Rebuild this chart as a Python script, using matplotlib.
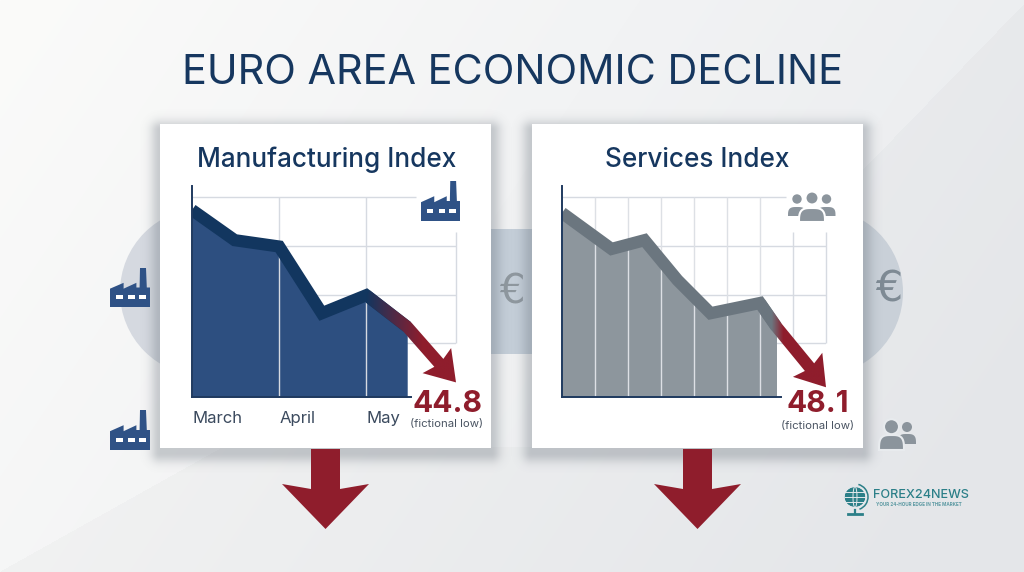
import numpy as np
import matplotlib
matplotlib.use('Agg')
import matplotlib.pyplot as plt
from matplotlib.colors import LinearSegmentedColormap, to_rgb
from matplotlib.patches import Rectangle, Circle, Polygon, Arc, Ellipse

plt.rcParams['font.family'] = ['Inter', 'DejaVu Sans']

# data
mfg_x = [0, 0.49, 1.0, 1.49, 2.0]
mfg_values = [48.34, 47.72, 47.59, 46.22, 46.59]
mfg_fade_x = [2.47, 3.03]
mfg_fade_values = [45.94, 44.8]
mfg_grid_values = [45.6, 46.6, 47.6, 48.6]
mfg_ticks = [0, 1, 2]
mfg_labels = ['March', 'April', 'May']

srv_x = [0, 1.5, 2.5, 3.5, 4.5, 6.0]
srv_values = [51.68, 50.94, 51.12, 50.30, 49.62, 49.83]
srv_fade_x = [6.5, 8.0]
srv_fade_values = [49.34, 48.1]
srv_grid_values = [49, 50, 51, 52]

NAVY = '#16375f'
RED = '#8f1d2c'
BLUE_FILL = '#2d4f80'
BLUE_LINE = '#12365f'
GREY_FILL = '#8d969d'
GREY_LINE = '#6b767f'
GRID = '#d6dae1'
TEAL = '#2b7f88'
W, H = 1024, 572

fig = plt.figure(figsize=(W / 100, H / 100), dpi=100)

# backdrop in pixel coordinates
bg = fig.add_axes([0, 0, 1, 1], zorder=0)
bg.axis('off')

xx, yy = np.meshgrid(np.linspace(0, W, W), np.linspace(0, H, H))
t = np.clip(0.8 * xx / W + 0.3 * yy / H, 0, 1)[..., None]
bg_img = (1 - t) * np.array(to_rgb('#fbfbfa')) + t * np.array(to_rgb('#e9ebee'))
lower = (yy > 572 - 0.56 * xx) & (yy > 447)
upper = yy > 168 - 1.03 * (xx - 865)
bg_img = bg_img - 0.018 * (lower | upper)[..., None]
bg.imshow(np.clip(bg_img, 0, 1), extent=(0, W, H, 0), aspect='auto', zorder=0)
bg.set_xlim(0, W)
bg.set_ylim(H, 0)

bg.add_patch(Circle((204, 292), 84, fc='#d5d9e0', lw=0, zorder=2))
bg.add_patch(Circle((819, 292), 84, fc='#c9d0d8', lw=0, zorder=2))
bg.add_patch(Rectangle((491, 229), 41, 125, fc='#c4ced8', lw=0, zorder=2))
bg.text(512, 292, '€', fontsize=29, family='DejaVu Sans', color='#8f989f', ha='center', va='center', zorder=3)
bg.text(889, 290, '€', fontsize=31, family='DejaVu Sans', color='#7e8a94', ha='center', va='center', zorder=3)


def factory(ax, x0, y0, w, h, color):
    outline = [(0, 0), (0, 0.47), (0.34, 0.62), (0.34, 0.47), (0.66, 0.62), (0.66, 0.5),
               (0.74, 0.5), (0.75, 1), (0.9, 1), (0.92, 0.5), (1, 0.5), (1, 0)]
    ax.add_patch(Polygon([(x0 + a * w, y0 - b * h) for a, b in outline], fc=color, lw=0, zorder=6))
    for a in (0.15, 0.45, 0.73):
        ax.add_patch(Rectangle((x0 + a * w, y0 - 0.31 * h), 0.17 * w, 0.1 * h, fc='white', lw=0, zorder=7))


def person(ax, cx, head_y, r, half_w, top, bottom, color, edge=None, zorder=6):
    th = np.linspace(0, np.pi, 40)
    c, s = np.cos(th), np.sin(th)
    dome_x = cx + half_w * np.sign(c) * np.abs(c) ** 0.6
    dome_y = bottom - (bottom - top) * s ** 0.6
    lw = 1.5 if edge else 0
    ax.add_patch(Polygon(np.column_stack([dome_x, dome_y]), fc=color, ec=edge, lw=lw, zorder=zorder))
    ax.add_patch(Circle((cx, head_y), r, fc=color, ec=edge, lw=lw, zorder=zorder))


# soft shadows and cards
for left in (160, 532):
    dx = np.maximum(np.maximum(left - xx, xx - (left + 331)), 0)
    dy = np.maximum(np.maximum(130 - yy, yy - 453), 0)
    dist = np.hypot(dx, dy)
    shadow = np.zeros((H, W, 4))
    shadow[..., :3] = to_rgb('#59636e')
    shadow[..., 3] = 0.3 * np.exp(-(dist / 10) ** 2)
    bg.imshow(shadow, extent=(0, W, H, 0), aspect='auto', zorder=4)
    bg.add_patch(Rectangle((left, 124), 331, 324, fc='white', lw=0, zorder=5))
bg.set_xlim(0, W)
bg.set_ylim(H, 0)

# red arrows below the cards
for cx in (325.5, 697.5):
    bg.add_patch(Polygon([(cx - 14.5, 449), (cx + 14.5, 449), (cx + 14.5, 489), (cx + 43.5, 484),
                          (cx, 529), (cx - 43.5, 484), (cx - 14.5, 489)], fc=RED, lw=0, zorder=6))

# icons
factory(bg, 110, 307, 40, 39, '#2f5286')
factory(bg, 110, 450, 40, 40, '#2f5286')
factory(bg, 421, 221, 39, 40, '#2f5286')

person(bg, 797, 199, 4.7, 9, 207, 216, '#8c959d')
person(bg, 826.5, 199, 4.7, 9, 207, 216, '#8c959d')
person(bg, 812, 198, 6.5, 13, 208, 222, '#8c959d', edge='white', zorder=8)

person(bg, 907, 427, 5, 9, 434, 444, '#8b949c')
person(bg, 891.5, 426.7, 7.5, 12.5, 435, 450, '#8b949c', edge='#e8ebee', zorder=8)

# text
bg.text(512, 72.5, 'EURO AREA ECONOMIC DECLINE', fontsize=29.8, color=NAVY, ha='center', va='center', zorder=6)
bg.text(327, 160, 'Manufacturing Index', fontsize=18.8, fontweight='medium', color=NAVY, ha='center', va='center', zorder=6)
bg.text(697, 160, 'Services Index', fontsize=18.8, fontweight='medium', color=NAVY, ha='center', va='center', zorder=6)
bg.text(447, 403.5, f'{mfg_fade_values[-1]:.1f}', fontsize=21.5, fontweight='bold', color=RED, ha='center', va='center', zorder=6)
bg.text(818, 404.5, f'{srv_fade_values[-1]:.1f}', fontsize=21.5, fontweight='bold', color=RED, ha='center', va='center', zorder=6)
bg.text(447, 424, '(fictional low)', fontsize=8.2, color='#4b5563', ha='center', va='center', zorder=6)
bg.text(818, 426, '(fictional low)', fontsize=8.2, color='#4b5563', ha='center', va='center', zorder=6)

# logo
bg.add_patch(Circle((855, 497), 10.5, fc=TEAL, lw=0, zorder=6))
for dx_g in (-6, 0, 6):
    bg.add_patch(Ellipse((855, 497), abs(dx_g) * 3 + 4, 21, fc='none', ec='#e4e8ec', lw=0.7, zorder=7))
for dy_g in (-5, 0, 5):
    bg.plot([845, 865], [497 + dy_g, 497 + dy_g], color='#e4e8ec', lw=0.7, zorder=7)
bg.add_patch(Arc((855, 497), 26, 26, theta1=-75, theta2=70, ec=TEAL, lw=1.1, zorder=7))
bg.plot([855, 855], [510, 513], color=TEAL, lw=1.6, zorder=6)
bg.plot([848, 862], [514, 514], color=TEAL, lw=2, zorder=6)
bg.text(872.5, 495, 'FOREX24NEWS', fontsize=9.1, fontweight='medium', color=TEAL, ha='left', va='center', zorder=6)
bg.text(918.5, 504.5, 'YOUR 24-HOUR EDGE IN THE MARKET', fontsize=3.3, fontweight='bold', color='#5d9aa3',
        ha='center', va='center', zorder=6)


def arrow_outline(ax, xs, vs, half=6.0, wing=19.0, head=26.0):
    a, b, tip = ax.transData.transform(np.column_stack([xs, vs]))
    d1 = (b - a) / np.linalg.norm(b - a)
    d2 = (tip - b) / np.linalg.norm(tip - b)
    n1 = np.array([-d1[1], d1[0]])
    n2 = np.array([-d2[1], d2[0]])
    m = (n1 + n2) / np.linalg.norm(n1 + n2)
    m = m * half / np.dot(m, n1)
    neck = tip - d2 * head
    pts = [a + n1 * half, b + m, neck + n2 * half, neck + n2 * wing - d2 * 3, tip,
           neck - n2 * wing - d2 * 3, neck - n2 * half, b - m, a - n1 * half]
    return ax.transData.inverted().transform(np.array(pts))


def panel(box, x, values, fade_x, fade_values, xmax, ybase, grid_values, fill, line, fade_start, fade_stop):
    left, right = box
    ytop = ybase + 211 / 48.7
    ax = fig.add_axes([left / W, 1 - 397 / H, (right - left) / W, 211 / H], zorder=1)
    ax.patch.set_alpha(0)
    ax.set_xlim(0, xmax)
    ax.set_ylim(ybase, ytop)

    for v in grid_values:
        ax.hlines(v, 0, xmax * (0.85 if v == grid_values[-1] else 1), color=GRID, lw=1, zorder=1)

    fill_x = x + fade_x[:1]
    fill_v = values + fade_values[:1]
    ax.fill_between(fill_x, fill_v, ybase, color=fill, lw=0, zorder=2)
    ax.plot(fill_x, fill_v, color=line, lw=8.8, solid_joinstyle='miter', solid_capstyle='butt', zorder=5)

    # fading arrow from the last reading down to the low
    outline = arrow_outline(ax, [x[-1], fade_x[0], fade_x[1]], [values[-1], fade_values[0], fade_values[1]])
    clip = Polygon(outline, transform=ax.transData)
    cmap = LinearSegmentedColormap.from_list('fade', [line, RED])
    ramp_end = xmax * 1.05
    ramp = np.clip((np.linspace(x[-1], ramp_end, 256) - fade_start) / (fade_stop - fade_start), 0, 1)[None, :]
    im = ax.imshow(ramp, extent=(x[-1], ramp_end, ybase, ytop), aspect='auto', cmap=cmap,
                   vmin=0, vmax=1, zorder=6)
    im.set_clip_box(fig.bbox)
    im.set_clip_path(clip)
    ax.set_xlim(0, xmax)
    ax.set_ylim(ybase, ytop)

    ax.set_yticks([])
    for s in ('top', 'right'):
        ax.spines[s].set_visible(False)
    for s in ('left', 'bottom'):
        ax.spines[s].set_color('#1f3a5f')
        ax.spines[s].set_linewidth(1.4)
        ax.spines[s].set_zorder(7)
    ax.spines['bottom'].set_bounds(0, xmax * (219 / (right - left)))
    ax.tick_params(axis='x', length=0, pad=10, labelsize=12, labelcolor='#3b4a5e')
    return ax


ax1 = panel((192, 456), mfg_x, mfg_values, mfg_fade_x, mfg_fade_values, 3.03, 44.5, mfg_grid_values,
            BLUE_FILL, BLUE_LINE, 2.0, 2.65)
ax1.vlines([1, 2], 44.5, 48.6, color=GRID, lw=1, zorder=3)
ax1.vlines(3.03, 45.6, 47.88, color=GRID, lw=1, zorder=1, clip_on=False)
ax1.set_xticks(mfg_ticks)
ax1.set_xticklabels(mfg_labels, ha='left')

ax2 = panel((562, 826), srv_x, srv_values, srv_fade_x, srv_fade_values, 8.0, 47.9, srv_grid_values,
            GREY_FILL, GREY_LINE, 6.35, 6.7)
ax2.vlines([1, 2, 3, 4, 5, 6], 47.9, 52, color='#dde0e5', lw=1, zorder=3)
ax2.vlines([7, 8], 49, 51.28, color=GRID, lw=1, zorder=1, clip_on=False)
ax2.set_xticks([])

fig.savefig('out.png', dpi=100)
